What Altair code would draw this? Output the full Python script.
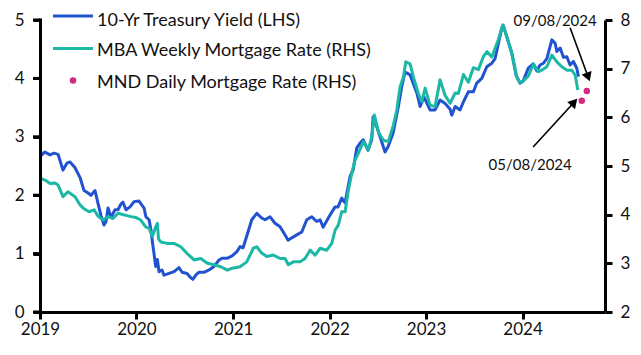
import altair as alt
import pandas as pd

# ---- data (decimal years) ----
ust_t = [2019.000, 2019.049, 2019.104, 2019.145, 2019.187, 2019.238, 2019.280, 2019.311, 2019.363, 2019.415,
         2019.456, 2019.487, 2019.528, 2019.570, 2019.601, 2019.632, 2019.663, 2019.684, 2019.705, 2019.736,
         2019.777, 2019.808, 2019.839, 2019.860, 2019.891, 2019.933, 2019.974, 2020.026, 2020.078, 2020.098,
         2020.130, 2020.150, 2020.166, 2020.181, 2020.199, 2020.216, 2020.233, 2020.264, 2020.285, 2020.337,
         2020.389, 2020.440, 2020.472, 2020.523, 2020.554, 2020.585, 2020.617, 2020.648, 2020.699, 2020.751,
         2020.803, 2020.855, 2020.886, 2020.938, 2020.990, 2021.038, 2021.073, 2021.104, 2021.155, 2021.194,
         2021.246, 2021.297, 2021.332, 2021.383, 2021.435, 2021.487, 2021.539, 2021.570, 2021.608, 2021.660,
         2021.712, 2021.764, 2021.816, 2021.867, 2021.902, 2021.933, 2022.005, 2022.057, 2022.088, 2022.126,
         2022.161, 2022.212, 2022.244, 2022.282, 2022.316, 2022.347, 2022.399, 2022.437, 2022.451, 2022.489,
         2022.523, 2022.575, 2022.606, 2022.658, 2022.713, 2022.748, 2022.782, 2022.834, 2022.865, 2022.904,
         2022.938, 2022.979, 2023.041, 2023.093, 2023.145, 2023.197, 2023.249, 2023.266, 2023.301, 2023.352,
         2023.387, 2023.438, 2023.490, 2023.525, 2023.577, 2023.629, 2023.681, 2023.715, 2023.749, 2023.784,
         2023.801, 2023.836, 2023.888, 2023.933, 2023.974, 2024.005, 2024.057, 2024.109, 2024.147, 2024.181,
         2024.216, 2024.251, 2024.303, 2024.337, 2024.355, 2024.389, 2024.423, 2024.458, 2024.492, 2024.526,
         2024.562, 2024.578]
ust_v = [2.66, 2.74, 2.69, 2.72, 2.70, 2.43, 2.55, 2.57, 2.47, 2.30,
         2.08, 2.05, 2.00, 2.08, 1.86, 1.65, 1.49, 1.55, 1.78, 1.62,
         1.75, 1.75, 1.85, 1.88, 1.75, 1.80, 1.89, 1.90, 1.78, 1.63,
         1.58, 1.40, 1.18, 1.00, 0.78, 0.90, 0.69, 0.72, 0.63, 0.66,
         0.69, 0.76, 0.68, 0.66, 0.60, 0.56, 0.64, 0.68, 0.68, 0.72,
         0.78, 0.89, 0.92, 0.92, 0.96, 1.03, 1.12, 1.10, 1.37, 1.58,
         1.69, 1.61, 1.58, 1.63, 1.52, 1.46, 1.32, 1.23, 1.27, 1.32,
         1.37, 1.58, 1.63, 1.55, 1.58, 1.45, 1.66, 1.80, 1.80, 1.95,
         1.87, 2.32, 2.43, 2.81, 2.89, 2.95, 2.77, 2.95, 3.34, 3.17,
         3.00, 2.74, 2.83, 3.06, 3.52, 3.86, 4.11, 4.06, 3.92, 3.75,
         3.52, 3.68, 3.46, 3.46, 3.63, 3.57, 3.47, 3.37, 3.52, 3.46,
         3.60, 3.77, 3.77, 3.92, 4.00, 4.20, 4.26, 4.34, 4.60, 4.86,
         4.90, 4.71, 4.43, 4.05, 3.92, 3.95, 4.17, 4.25, 4.13, 4.23,
         4.26, 4.34, 4.66, 4.60, 4.46, 4.52, 4.36, 4.37, 4.23, 4.29,
         4.17, 4.03]

mba_t = [2019.000, 2019.052, 2019.104, 2019.155, 2019.187, 2019.238, 2019.290, 2019.311, 2019.363, 2019.415,
         2019.456, 2019.508, 2019.560, 2019.601, 2019.653, 2019.705, 2019.756, 2019.808, 2019.881, 2019.943,
         2019.995, 2020.044, 2020.095, 2020.130, 2020.164, 2020.199, 2020.216, 2020.228, 2020.251, 2020.319,
         2020.389, 2020.458, 2020.526, 2020.596, 2020.665, 2020.734, 2020.803, 2020.873, 2020.941, 2020.993,
         2021.073, 2021.142, 2021.210, 2021.246, 2021.297, 2021.349, 2021.418, 2021.487, 2021.539, 2021.573,
         2021.625, 2021.694, 2021.746, 2021.798, 2021.850, 2021.902, 2021.971, 2022.023, 2022.057, 2022.091,
         2022.126, 2022.161, 2022.195, 2022.230, 2022.264, 2022.298, 2022.350, 2022.402, 2022.437, 2022.464,
         2022.506, 2022.557, 2022.609, 2022.661, 2022.696, 2022.731, 2022.765, 2022.790, 2022.834, 2022.868,
         2022.920, 2022.955, 2022.990, 2023.041, 2023.093, 2023.145, 2023.197, 2023.249, 2023.301, 2023.335,
         2023.387, 2023.438, 2023.490, 2023.542, 2023.594, 2023.632, 2023.681, 2023.715, 2023.749, 2023.795,
         2023.836, 2023.888, 2023.940, 2023.967, 2024.008, 2024.060, 2024.112, 2024.164, 2024.199, 2024.251,
         2024.303, 2024.355, 2024.406, 2024.458, 2024.510, 2024.544, 2024.572]
mba_v = [4.75, 4.71, 4.64, 4.65, 4.61, 4.37, 4.47, 4.44, 4.37, 4.20,
         4.12, 4.06, 4.10, 3.97, 3.89, 3.96, 3.92, 4.03, 3.99, 3.96,
         3.94, 3.89, 3.75, 3.72, 3.55, 3.75, 3.82, 3.50, 3.44, 3.41,
         3.41, 3.34, 3.20, 3.07, 3.10, 3.00, 2.97, 2.93, 2.86, 2.90,
         2.93, 3.03, 3.31, 3.34, 3.21, 3.14, 3.17, 3.10, 3.10, 2.97,
         3.03, 3.03, 3.10, 3.27, 3.17, 3.31, 3.27, 3.41, 3.68, 3.79,
         4.06, 4.06, 4.50, 4.85, 5.12, 5.26, 5.50, 5.33, 5.60, 6.05,
         5.70, 5.53, 5.50, 5.84, 6.15, 6.63, 6.83, 7.14, 7.10, 6.83,
         6.49, 6.32, 6.60, 6.25, 6.22, 6.77, 6.45, 6.29, 6.50, 6.49,
         6.88, 6.72, 7.02, 6.98, 7.25, 7.35, 7.24, 7.42, 7.60, 7.90,
         7.66, 7.32, 6.83, 6.72, 6.75, 6.85, 7.10, 6.94, 6.97, 7.04,
         7.28, 7.14, 7.04, 6.97, 6.97, 6.87, 6.56]

mnd_t = [2024.613, 2024.665]
mnd_v = [6.34, 6.54]
mnd_labels = ["05/08/2024", "09/08/2024"]

# annotation label anchors and arrows (data coordinates on the RHS scale)
note_t = [2024.078, 2024.337]
note_v = [5.03, 7.98]
arrow_t = [2024.109, 2024.492]
arrow_v = [5.39, 7.84]
arrow_t2 = [2024.534, 2024.679]
arrow_v2 = [6.31, 6.83]
arrow_angle = [42, 160]

lhs_ticks = [0, 1, 2, 3, 4, 5]
rhs_ticks = [2, 3, 4, 5, 6, 7, 8]

series_names = ["10-Yr Treasury Yield (LHS)", "MBA Weekly Mortgage Rate (RHS)", "MND Daily Mortgage Rate (RHS)"]

BLUE = "#2152d0"
TEAL = "#1bb8a6"
PINK = "#d42a84"
FONT = "Lato"


def to_date(ts):
    return [pd.Timestamp("2019-01-01") + pd.to_timedelta((t - 2019) * 365.25, unit="D") for t in ts]


ust = pd.DataFrame({"date": to_date(ust_t), "v": ust_v})
mba = pd.DataFrame({"date": to_date(mba_t), "v": mba_v})
mnd = pd.DataFrame({"date": to_date(mnd_t), "v": mnd_v})
notes = pd.DataFrame({"date": to_date(note_t), "v": note_v, "label": mnd_labels})
arrows = pd.DataFrame({"date": to_date(arrow_t), "v": arrow_v,
                       "date2": to_date(arrow_t2), "v2": arrow_v2, "ang": arrow_angle})
lhs_tick_df = pd.DataFrame({"v": lhs_ticks})
lhs_dom_df = pd.DataFrame({"lo": [min(lhs_ticks)], "hi": [max(lhs_ticks)]})
legend_df = pd.DataFrame({"name": series_names})

x_scale = alt.Scale(domain=[alt.DateTime(year=2019, month=1, date=1),
                            alt.DateTime(year=2024, month=11, date=8)])

AX = dict(title=None, grid=False, domain=True, ticks=True, domainColor="black", domainWidth=3,
          tickColor="black", tickWidth=3, tickSize=7, labelFont=FONT, labelFontSize=17,
          labelColor="#111111")

x_axis = alt.Axis(orient="bottom", format="%Y", tickCount={"interval": "year", "step": 1},
                  labelAngle=0, labelPadding=2, labelFlush=False, labelOverlap=False, **AX)
lhs_axis = alt.Axis(orient="left", values=lhs_ticks, labelPadding=9, **AX)
rhs_axis = alt.Axis(orient="right", values=rhs_ticks, labelPadding=8, **AX)

lhs_scale = alt.Scale(domain=[0, 5], nice=False, zero=False)
rhs_scale = alt.Scale(domain=[2, 8], nice=False, zero=False)


def X(field):
    return alt.X(field, scale=x_scale, axis=x_axis)


blue = alt.Chart(ust).mark_line(color=BLUE, strokeWidth=3, strokeJoin="round").encode(
    x=X("date:T"),
    y=alt.Y("v:Q", scale=lhs_scale, axis=lhs_axis),
)

teal = alt.Chart(mba).mark_line(color=TEAL, strokeWidth=3, strokeJoin="round").encode(
    x=X("date:T"),
    y=alt.Y("v:Q", scale=rhs_scale, axis=rhs_axis),
)

dots = alt.Chart(mnd).mark_point(color=PINK, filled=True, opacity=1, size=42).encode(
    x=X("date:T"),
    y=alt.Y("v:Q", scale=rhs_scale, axis=None),
)

arrow_lines = alt.Chart(arrows).mark_rule(color="black", strokeWidth=1.6).encode(
    x=X("date:T"),
    x2="date2:T",
    y=alt.Y("v:Q", scale=rhs_scale, axis=None),
    y2="v2:Q",
)

arrow_heads = alt.Chart(arrows).mark_point(shape="triangle-up", filled=True, color="black",
                                           opacity=1, size=110).encode(
    x=X("date2:T"),
    y=alt.Y("v2:Q", scale=rhs_scale, axis=None),
    angle=alt.Angle("ang:Q", scale=None),
)

note_text = alt.Chart(notes).mark_text(font=FONT, fontSize=15, color="#111111",
                                       align="center", baseline="middle").encode(
    x=X("date:T"),
    y=alt.Y("v:Q", scale=rhs_scale, axis=None),
    text="label:N",
)

# manual legend (top-left)
leg_line1 = alt.Chart(legend_df.head(1)).mark_rule(color=BLUE, strokeWidth=3).encode(
    x=alt.value(13), x2=alt.value(53), y=alt.value(-4), y2=alt.value(-4))
leg_line2 = alt.Chart(legend_df.head(1)).mark_rule(color=TEAL, strokeWidth=3).encode(
    x=alt.value(13), x2=alt.value(53), y=alt.value(28.5), y2=alt.value(28.5))
leg_dot = alt.Chart(legend_df.head(1)).mark_point(color=PINK, filled=True, opacity=1, size=42).encode(
    x=alt.value(33), y=alt.value(60.5))
leg_text = [
    alt.Chart(legend_df.head(1)).mark_text(font=FONT, fontSize=18, color="#111111", align="left",
                                           baseline="alphabetic").encode(
        x=alt.value(57), y=alt.value(yy), text=alt.value(name))
    for name, yy in zip(series_names, [5.5, 35.5, 67.5])
]

# left axis line and ticks drawn explicitly, on top of everything
left_domain = alt.Chart(lhs_dom_df).mark_rule(color="black", strokeWidth=3, strokeCap="square").encode(
    x=alt.value(0.5), x2=alt.value(0.5),
    y=alt.Y("lo:Q", scale=lhs_scale, axis=None),
    y2="hi:Q",
)
left_ticks = alt.Chart(lhs_tick_df).mark_rule(color="black", strokeWidth=3).encode(
    x=alt.value(-7), x2=alt.value(0.5),
    y=alt.Y("v:Q", scale=lhs_scale, axis=None),
)

chart = alt.layer(
    blue, teal, dots, arrow_lines, arrow_heads, note_text,
    leg_line1, leg_line2, leg_dot, *leg_text, left_domain, left_ticks
).resolve_scale(y="independent").properties(
    width=565, height=292,
    padding={"left": 6, "top": 3, "right": 2, "bottom": 4},
).configure_view(stroke=None)

chart.save("out.html", embed_options={"renderer": "svg", "actions": False})
